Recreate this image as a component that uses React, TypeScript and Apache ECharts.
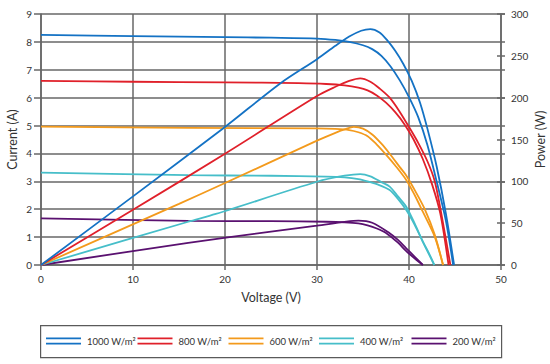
import React, { useEffect, useRef } from "react";
import * as echarts from "echarts";

// Irradiance levels (legend)
const levels = ["1000 W/m²", "800 W/m²", "600 W/m²", "400 W/m²", "200 W/m²"];
const colors = ["#1472c4", "#e0202a", "#f39a1c", "#46bec9", "#5a1170"];

// I-V curves (voltage V, current A)
const iv1000V = [0, 10, 20, 25, 30, 32, 33.5, 35, 36, 37, 38, 39, 40, 41, 42, 43, 44, 44.8];
const iv1000I = [8.25, 8.21, 8.17, 8.15, 8.12, 8.07, 8.0, 7.88, 7.74, 7.5, 7.12, 6.62, 6.02, 5.3, 4.3, 3.0, 1.6, 0];
const iv800V = [0, 10, 20, 28, 31, 33, 34.5, 35.5, 36.5, 37.5, 38.5, 39.5, 40.5, 41.5, 42.5, 43.4, 44.3];
const iv800I = [6.6, 6.57, 6.55, 6.52, 6.49, 6.44, 6.36, 6.26, 6.08, 5.82, 5.48, 5.05, 4.5, 3.8, 2.9, 1.85, 0];
const iv600V = [0, 16, 30, 32, 33.5, 34.5, 35.5, 36.5, 37.5, 38.5, 39.7, 40.6, 41.5, 42.8, 43.7];
const iv600I = [4.96, 4.92, 4.9, 4.88, 4.84, 4.76, 4.62, 4.32, 3.96, 3.57, 3.05, 2.52, 1.91, 1.01, 0];
const iv400V = [0, 16, 25, 31, 33, 34.5, 35.5, 36.5, 37.9, 38.8, 39.7, 40.6, 41.5, 42.2, 42.75];
const iv400I = [3.31, 3.22, 3.2, 3.17, 3.14, 3.08, 3.0, 2.9, 2.69, 2.37, 1.97, 1.45, 0.84, 0.4, 0];
const iv200V = [0, 16, 25, 31, 33, 34.5, 35.5, 36.5, 37.5, 38.8, 39.7, 40.6, 41.5];
const iv200I = [1.67, 1.58, 1.57, 1.55, 1.53, 1.49, 1.42, 1.31, 1.15, 0.8, 0.5, 0.24, 0];

// P-V curves (voltage V, power W)
const pv1000V = [0, 10, 20, 26, 30, 32, 33.5, 34.8, 35.8, 36.8, 37.6, 38.5, 39.4, 40.3, 41.2, 42, 43, 44, 44.9];
const pv1000P = [0, 82, 165, 217, 246, 262, 273, 280, 282, 278, 269, 256, 240, 220, 194, 163, 118, 62, 0];
const pv800V = [0, 10, 20, 30, 32, 33.5, 34.7, 35.8, 36.8, 37.9, 39, 40, 41, 42, 42.8, 43.6, 44.5];
const pv800P = [0, 66, 133, 202, 213, 220, 223, 219, 211, 200, 183, 165, 146, 124, 100, 56, 0];
const pv600V = [0, 15, 20, 30, 32, 33, 34, 35, 36, 37, 37.9, 39, 39.7, 40.7, 41.7, 42.8, 43.7];
const pv600P = [0, 73, 98, 148.6, 158, 162, 165, 163, 156, 145, 133, 117, 107, 88, 67, 36, 0];
const pv400V = [0, 16, 19, 30, 33, 34.7, 35.8, 37, 37.9, 38.8, 39.7, 40.6, 41.5, 42.75];
const pv400P = [0, 51.7, 61, 99.5, 106.7, 108.7, 106, 99, 93.6, 82, 69.7, 50, 28, 0];
const pv200V = [0, 16, 25, 30, 33, 34.5, 36, 37.9, 38.8, 39.7, 40.6, 41.5];
const pv200P = [0, 26.5, 40, 47, 51.5, 53, 50.5, 38, 30, 20, 10, 0];

const ivSets = [
  [iv1000V, iv1000I],
  [iv800V, iv800I],
  [iv600V, iv600I],
  [iv400V, iv400I],
  [iv200V, iv200I],
];
const pvSets = [
  [pv1000V, pv1000P],
  [pv800V, pv800P],
  [pv600V, pv600P],
  [pv400V, pv400P],
  [pv200V, pv200P],
];

const legendLefts = [46, 137.5, 228.5, 319, 411.5];

const FONT = 'Lato, "Open Sans", sans-serif';
const GRID = "#676767";

export default function App() {
  const ref = useRef<HTMLDivElement>(null);
  useEffect(() => {
    if (!ref.current) return;
    const chart = echarts.init(ref.current, null, { renderer: "svg" });
    const pair = (xs: number[], ys: number[]) => xs.map((x, i) => [x, ys[i]]);
    const series: any[] = [];
    levels.forEach((name, k) => {
      series.push({
        type: "line",
        name,
        yAxisIndex: 0,
        data: pair(ivSets[k][0], ivSets[k][1]),
        showSymbol: false,
        smooth: 0.3,
        lineStyle: { color: colors[k], width: 1.8 },
        itemStyle: { color: colors[k] },
        z: 10 - k,
      });
      series.push({
        type: "line",
        name,
        yAxisIndex: 1,
        data: pair(pvSets[k][0], pvSets[k][1]),
        showSymbol: false,
        smooth: 0.3,
        lineStyle: { color: colors[k], width: 1.8 },
        itemStyle: { color: colors[k] },
        z: 10 - k,
      });
    });
    const axisLine = { show: true, lineStyle: { color: GRID, width: 1.5 } };
    const option: any = {
      animation: false,
      textStyle: { fontFamily: FONT },
      grid: { left: 41, right: 49, top: 14, bottom: 99, containLabel: false, outerBoundsMode: "none" },
      xAxis: {
        type: "value",
        min: 0,
        max: 50,
        interval: 10,
        axisLine,
        axisTick: { show: true, length: 5, lineStyle: { color: GRID, width: 1.5 } },
        splitLine: { show: true, lineStyle: { color: GRID, width: 1.5 } },
        axisLabel: { color: "#333", fontSize: 10, margin: 9, fontFamily: FONT },
        name: "Voltage (V)",
        nameLocation: "middle",
        nameGap: 26,
        nameMoveOverlap: false,
        nameTextStyle: { color: "#333", fontSize: 12.5, fontFamily: FONT },
      },
      yAxis: [
        {
          type: "value",
          position: "left",
          min: 0,
          max: 9,
          interval: 1,
          axisLine,
          axisTick: { show: true, length: 7, lineStyle: { color: GRID, width: 1.5 } },
          splitLine: { show: true, lineStyle: { color: GRID, width: 1.5 } },
          axisLabel: { color: "#333", fontSize: 10, margin: 9, fontFamily: FONT },
          name: "Current (A)",
          nameLocation: "middle",
          nameGap: 22,
          nameMoveOverlap: false,
          nameTextStyle: { color: "#333", fontSize: 12.5, fontFamily: FONT },
        },
        {
          type: "value",
          position: "right",
          min: 0,
          max: 300,
          interval: 50,
          axisLine,
          axisTick: { show: true, length: 4, lineStyle: { color: GRID, width: 1.5 } },
          splitLine: { show: false },
          axisLabel: { color: "#333", fontSize: 10, margin: 10, fontFamily: FONT },
          name: "Power (W)",
          nameLocation: "middle",
          nameGap: 33,
          nameMoveOverlap: false,
          nameTextStyle: { color: "#333", fontSize: 12.5, fontFamily: FONT },
        },
        {
          type: "value",
          position: "right",
          min: 0,
          max: 300,
          interval: 50,
          axisLine: { show: false },
          axisTick: { show: true, inside: true, length: 4, lineStyle: { color: GRID, width: 1.5 } },
          splitLine: { show: false },
          axisLabel: { show: false },
        },
        {
          type: "value",
          position: "right",
          min: 0,
          max: 9,
          interval: 1,
          axisLine: { show: false },
          axisTick: { show: true, length: 4, lineStyle: { color: GRID, width: 1.5 } },
          splitLine: { show: false },
          axisLabel: { show: false },
        },
      ],
      legend: levels.map((name, k) => ({
        data: [name],
        left: legendLefts[k],
        top: 336,
        orient: "horizontal",
        itemWidth: 35,
        itemHeight: 7,
        icon: "path://M0 0H35V1.8H0Z M0 5.2H35V7H0Z",
        itemStyle: { color: colors[k], borderWidth: 0 },
        selectedMode: false,
        padding: 0,
        textStyle: { color: "#333", fontSize: 9.5, fontFamily: FONT, padding: [0, 0, 0, 1] },
      })),
      graphic: [
        {
          type: "rect",
          left: 40,
          top: 325,
          z: 0,
          shape: { x: 0, y: 0, width: 461, height: 32 },
          style: { fill: "#fff", stroke: "#5a5a5a", lineWidth: 1.2 },
        },
      ],
      series,
    };
    chart.setOption(option);
    return () => chart.dispose();
  }, []);
  return <div ref={ref} style={{ width: 550, height: 364, position: "absolute", left: 0, top: 0 }} />;
}
